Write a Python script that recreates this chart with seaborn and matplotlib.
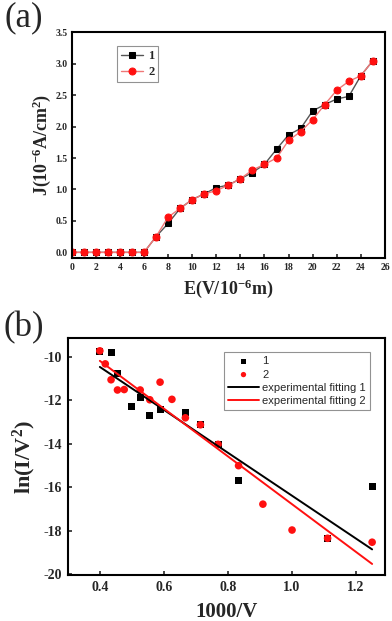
import matplotlib
matplotlib.use("Agg")
import matplotlib.pyplot as plt
import seaborn as sns

# ── Panel (a): J-E curves ─────────────────────────────────
E_field = list(range(26))
J_1 = [0, 0, 0, 0, 0, 0, 0, 0.25, 0.46, 0.70, 0.84, 0.93, 1.03, 1.07, 1.17,
       1.27, 1.40, 1.64, 1.87, 1.97, 2.25, 2.35, 2.44, 2.48, 2.81, 3.05]
J_2 = [0, 0, 0, 0, 0, 0, 0, 0.25, 0.56, 0.70, 0.84, 0.93, 0.98, 1.07, 1.17,
       1.31, 1.40, 1.50, 1.78, 1.92, 2.11, 2.35, 2.58, 2.72, 2.81, 3.05]

# ── Panel (b): F-N plot ───────────────────────────────────
fn_x1 = [0.400, 0.435, 0.455, 0.500, 0.526, 0.556, 0.588, 0.667, 0.714,
         0.769, 0.833, 1.111, 1.250]
fn_y1 = [-9.75, -9.78, -10.76, -12.30, -11.87, -12.69, -12.42, -12.54, -13.12,
         -14.02, -15.67, -18.34, -15.97]
fn_x2 = [0.400, 0.417, 0.435, 0.455, 0.476, 0.526, 0.556, 0.588, 0.625,
         0.667, 0.714, 0.769, 0.833, 0.909, 1.000, 1.111, 1.250]
fn_y2 = [-9.72, -10.32, -11.05, -11.52, -11.50, -11.52, -11.97, -11.16, -11.95,
         -12.80, -13.12, -14.02, -15.00, -16.77, -17.96, -18.34, -18.52]
fit_x = [0.40, 1.25]
fit_y1 = [-10.46, -18.85]
fit_y2 = [-10.18, -19.52]

sns.set_theme(style="ticks")
plt.rcParams["font.family"] = ["Liberation Serif", "DejaVu Serif"]
plt.rcParams["font.weight"] = "bold"
plt.rcParams["axes.unicode_minus"] = False
plt.rcParams["mathtext.fontset"] = "custom"
plt.rcParams["mathtext.rm"] = "Liberation Serif:bold"
plt.rcParams["mathtext.bf"] = "Liberation Serif:bold"
plt.rcParams["mathtext.default"] = "rm"
plt.rcParams["xtick.direction"] = "in"
plt.rcParams["ytick.direction"] = "in"

fig = plt.figure(figsize=(3.92, 6.21), dpi=100)
ax_a = fig.add_axes([0.183, 0.584, 0.799, 0.364])
ax_b = fig.add_axes([0.173, 0.074, 0.809, 0.381])

# ── (a) ───────────────────────────────────────────────────
sns.lineplot(x=E_field, y=J_1, ax=ax_a, color="#555555", lw=1.0, marker="s",
             markersize=4.5, markerfacecolor="black", markeredgecolor="black",
             label="1")
sns.lineplot(x=E_field, y=J_2, ax=ax_a, color="#f07878", lw=1.0, marker="o",
             markersize=5, markerfacecolor="#ff1010", markeredgecolor="#ff1010",
             label="2")
ax_a.set_xlim(0, 26)
ax_a.set_ylim(-0.095, 3.5)
ax_a.set_xticks(range(0, 27, 2))
ax_a.set_yticks([0, 0.5, 1.0, 1.5, 2.0, 2.5, 3.0, 3.5])
ax_a.set_yticklabels([f"{v:.1f}" for v in ax_a.get_yticks()])
ax_a.tick_params(labelsize=7, length=3, width=1.2, pad=3)
ax_a.set_xlabel("E(V/10$^{-6}$m)", fontsize=13, fontweight="bold", labelpad=4)
ax_a.set_ylabel("J(10$^{-6}$A/cm$^{2}$)", fontsize=13, fontweight="bold", labelpad=2)
leg_a = ax_a.legend(loc="upper left", bbox_to_anchor=(0.125, 0.965), fontsize=9,
                    frameon=True, fancybox=False, edgecolor="#777777",
                    handlelength=1.8, borderpad=0.3, labelspacing=0.3,
                    handletextpad=0.4)
leg_a.get_frame().set_linewidth(0.8)
fig.text(0.012, 0.971, "(a)", fontsize=25, fontweight="normal", va="center", ha="left")

# ── (b) ───────────────────────────────────────────────────
sns.scatterplot(x=fn_x1, y=fn_y1, ax=ax_b, marker="s", color="black", s=26,
                edgecolor="none", label="1")
sns.scatterplot(x=fn_x2, y=fn_y2, ax=ax_b, marker="o", color="#ff1010", s=30,
                edgecolor="none", label="2")
sns.lineplot(x=fit_x, y=fit_y1, ax=ax_b, color="black", lw=1.4,
             label="experimental fitting 1")
sns.lineplot(x=fit_x, y=fit_y2, ax=ax_b, color="#ff1010", lw=1.4,
             label="experimental fitting 2")
ax_b.set_xlim(0.30, 1.29)
ax_b.set_ylim(-20.03, -9.15)
ax_b.set_xticks([0.4, 0.6, 0.8, 1.0, 1.2])
ax_b.set_xticklabels(["0.4", "0.6", "0.8", "1.0", "1.2"])
ax_b.set_yticks([-10, -12, -14, -16, -18, -20])
ax_b.set_yticklabels(["-10", "-12", "-14", "-16", "-18", "-20"])
ax_b.tick_params(labelsize=10, length=3, width=1.2, pad=4)
ax_b.set_xlabel("1000/V", fontsize=15, fontweight="bold", labelpad=6)
ax_b.set_ylabel("ln(I/V$^{2}$)", fontsize=16, fontweight="bold", labelpad=4)
handles, labels = ax_b.get_legend_handles_labels()
order = [labels.index(n) for n in ["1", "2", "experimental fitting 1", "experimental fitting 2"]]
leg_b = ax_b.legend([handles[i] for i in order], [labels[i] for i in order],
                    loc="upper right", bbox_to_anchor=(0.97, 0.965),
                    prop={"family": "Liberation Sans", "size": 8, "weight": "normal"},
                    frameon=True, fancybox=False, edgecolor="#777777",
                    handlelength=2.8, borderpad=0.35, labelspacing=0.3,
                    markerscale=0.7, handletextpad=0.3)
leg_b.get_frame().set_linewidth(0.8)
fig.text(0.008, 0.472, "(b)", fontsize=25, fontweight="normal", va="center", ha="left")

for ax in (ax_a, ax_b):
    for side in ax.spines.values():
        side.set_linewidth(1.5)
        side.set_color("black")
    for lbl in ax.get_xticklabels() + ax.get_yticklabels():
        lbl.set_fontweight("bold")

fig.savefig("out.png", dpi=100)
